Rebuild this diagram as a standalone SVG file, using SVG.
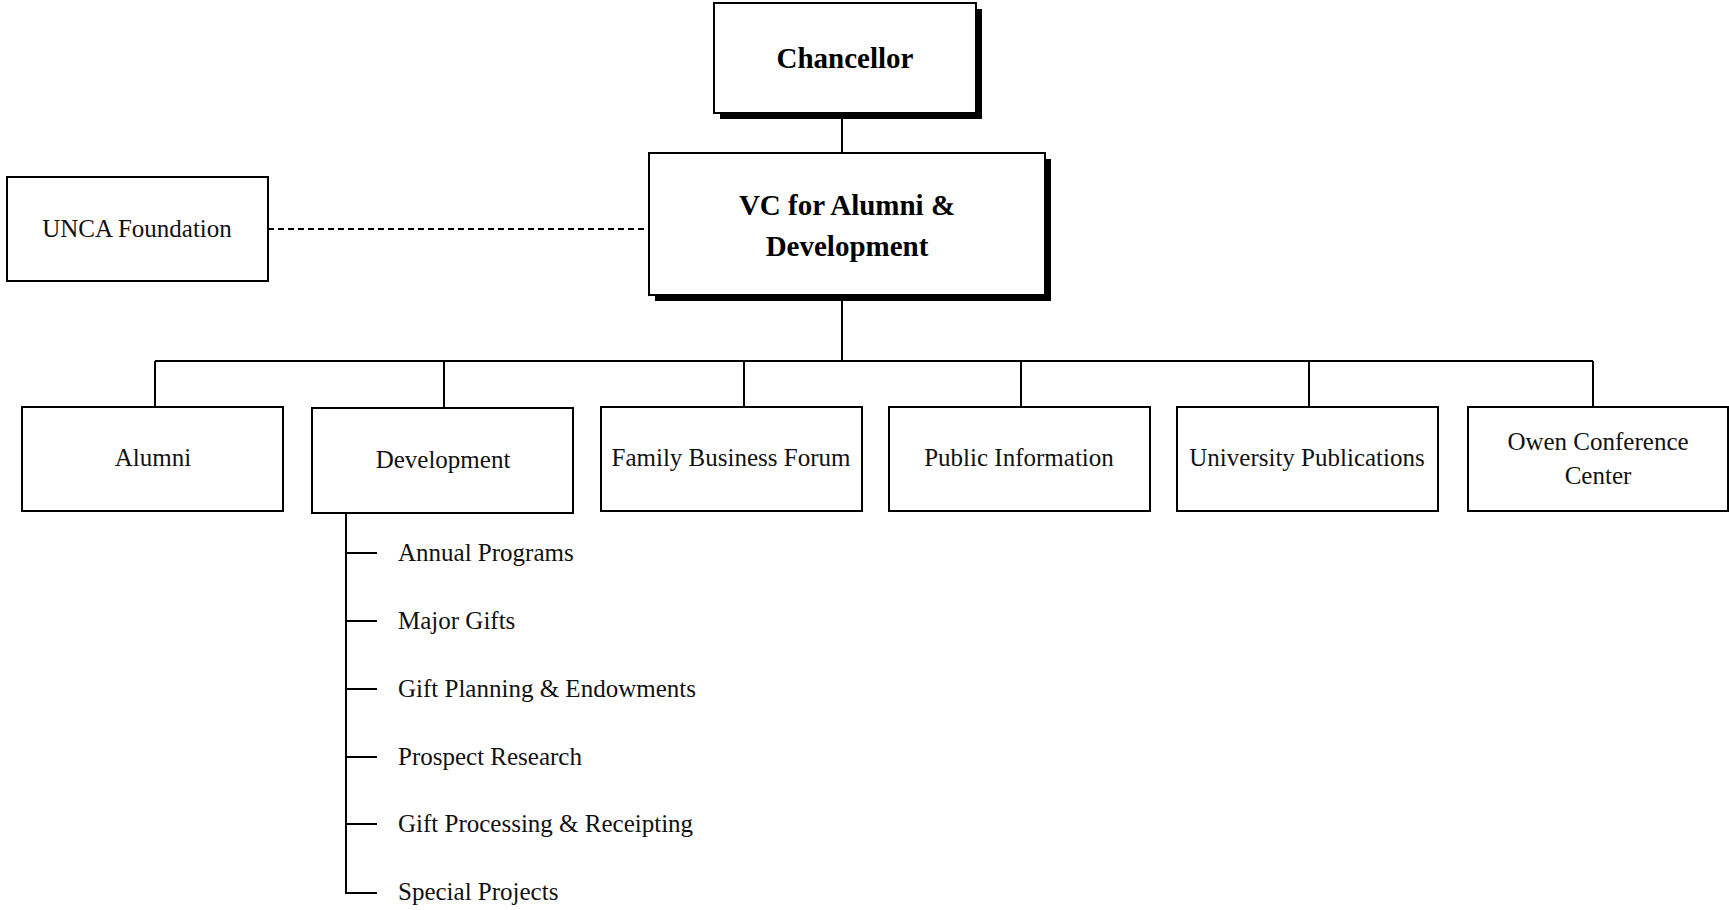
<svg xmlns="http://www.w3.org/2000/svg" width="1729" height="910" viewBox="0 0 1729 910">
<style>
.box{fill:#fff;stroke:#000;stroke-width:2}
.shadow{fill:#000}
.ln{stroke:#000;stroke-width:2;fill:none}
.dash{stroke:#000;stroke-width:2;stroke-dasharray:6 4;fill:none}
.t{font-family:"Liberation Serif","Times New Roman",serif;font-size:25px;fill:#111;text-anchor:middle}
.tb{font-family:"Liberation Serif","Times New Roman",serif;font-size:29px;font-weight:bold;fill:#000;text-anchor:middle}
.ts{font-family:"Liberation Serif","Times New Roman",serif;font-size:25px;fill:#111}
</style>
<rect width="1729" height="910" fill="#fff"/>
<g id="connectors">
<line class="ln" x1="842" y1="114" x2="842" y2="154"/>
<line class="ln" x1="842" y1="296" x2="842" y2="361"/>
<line class="ln" x1="155" y1="361" x2="1593" y2="361"/>
<line class="ln" x1="155" y1="361" x2="155" y2="407"/>
<line class="ln" x1="444" y1="361" x2="444" y2="408"/>
<line class="ln" x1="744" y1="361" x2="744" y2="407"/>
<line class="ln" x1="1021" y1="361" x2="1021" y2="407"/>
<line class="ln" x1="1309" y1="361" x2="1309" y2="407"/>
<line class="ln" x1="1593" y1="361" x2="1593" y2="407"/>
<line class="dash" x1="268" y1="229" x2="649" y2="229"/>
<path class="ln" d="M346 513 V893 H377"/>
<line class="ln" x1="346" y1="553" x2="377" y2="553"/>
<line class="ln" x1="346" y1="621" x2="377" y2="621"/>
<line class="ln" x1="346" y1="689" x2="377" y2="689"/>
<line class="ln" x1="346" y1="757" x2="377" y2="757"/>
<line class="ln" x1="346" y1="824" x2="377" y2="824"/>
</g>
<g id="chancellor">
<rect class="shadow" x="720" y="9" width="262" height="110"/>
<rect class="box" x="714" y="3" width="262" height="110"/>
<text class="tb" x="845" y="68">Chancellor</text>
</g>
<g id="vc">
<rect class="shadow" x="655" y="159" width="396" height="142"/>
<rect class="box" x="649" y="153" width="396" height="142"/>
<text class="tb" x="847" y="215">VC for Alumni &amp;</text>
<text class="tb" x="847" y="256">Development</text>
</g>
<g id="unca">
<rect class="box" x="7" y="177" width="261" height="104"/>
<text class="t" x="137" y="237">UNCA Foundation</text>
</g>
<g id="alumni">
<rect class="box" x="22" y="407" width="261" height="104"/>
<text class="t" x="153" y="466">Alumni</text>
</g>
<g id="development">
<rect class="box" x="312" y="408" width="261" height="105"/>
<text class="t" x="443" y="468">Development</text>
</g>
<g id="family-business-forum">
<rect class="box" x="601" y="407" width="261" height="104"/>
<text class="t" x="731" y="466">Family Business Forum</text>
</g>
<g id="public-information">
<rect class="box" x="889" y="407" width="261" height="104"/>
<text class="t" x="1019" y="466">Public Information</text>
</g>
<g id="university-publications">
<rect class="box" x="1177" y="407" width="261" height="104"/>
<text class="t" x="1307" y="466">University Publications</text>
</g>
<g id="owen">
<rect class="box" x="1468" y="407" width="260" height="104"/>
<text class="t" x="1598" y="450">Owen Conference</text>
<text class="t" x="1598" y="484">Center</text>
</g>
<g id="dev-subunits">
<text class="ts" x="398" y="561">Annual Programs</text>
<text class="ts" x="398" y="629">Major Gifts</text>
<text class="ts" x="398" y="697">Gift Planning &amp; Endowments</text>
<text class="ts" x="398" y="765">Prospect Research</text>
<text class="ts" x="398" y="832">Gift Processing &amp; Receipting</text>
<text class="ts" x="398" y="900">Special Projects</text>
</g>
</svg>
